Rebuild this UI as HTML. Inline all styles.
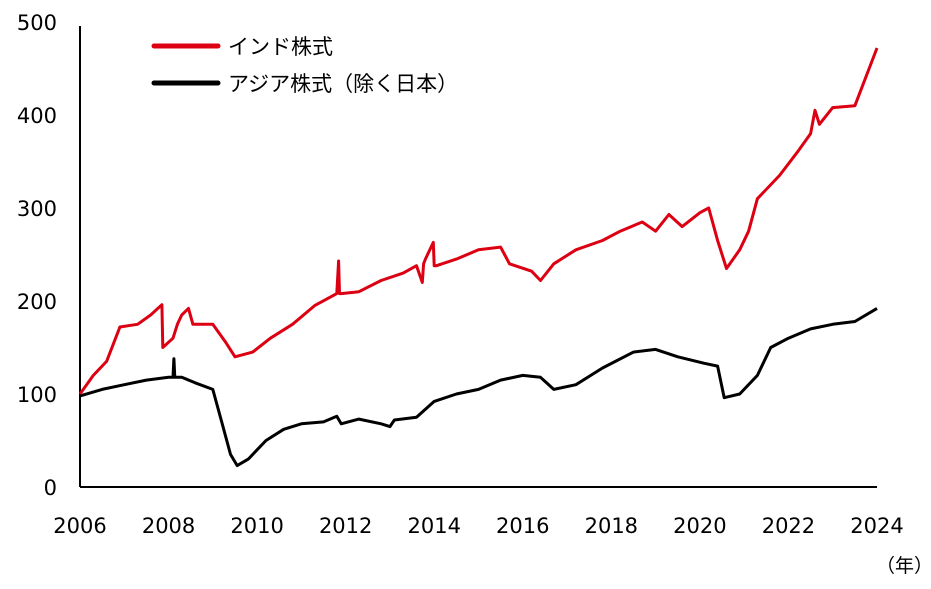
<!DOCTYPE html>
<html><head><meta charset="utf-8"><style>
body{margin:0;background:#fff;}
svg text{font-family:"Liberation Sans","Noto Sans CJK JP",sans-serif;fill:#000;}
svg text.tick{font-family:"DejaVu Sans","Liberation Sans",sans-serif;}
</style></head><body>
<svg id="chart" width="931" height="584" viewBox="0 0 931 584" xmlns="http://www.w3.org/2000/svg">
<g id="axes"></g>
<g id="series"></g>
<g>
<line x1="154" y1="46" x2="218" y2="46" stroke="#dc0012" stroke-width="5" stroke-linecap="round"/>
<text x="228" y="54" font-size="21">インド株式</text>
<line x1="154" y1="83" x2="218" y2="83" stroke="#000" stroke-width="5" stroke-linecap="round"/>
<text x="228" y="91" font-size="21">アジア株式（除く日本）</text>
</g>
<text x="876" y="572" font-size="19">（年）</text>
</svg>
<script>
const yTicks=[0,100,200,300,400,500];
const xTicks=[2006,2008,2010,2012,2014,2016,2018,2020,2022,2024];
const indiaYears=[2006.0,2006.3,2006.6,2006.9,2007.3,2007.6,2007.85,2007.87,2008.1,2008.2,2008.3,2008.45,2008.55,2009.0,2009.3,2009.5,2009.9,2010.3,2010.8,2011.3,2011.8,2011.84,2011.86,2011.9,2012.3,2012.8,2013.3,2013.6,2013.73,2013.76,2013.8,2013.98,2014.0,2014.05,2014.5,2015.0,2015.5,2015.7,2016.2,2016.4,2016.7,2017.2,2017.8,2018.2,2018.7,2019.0,2019.3,2019.6,2020.0,2020.2,2020.4,2020.6,2020.9,2021.1,2021.3,2021.8,2022.2,2022.5,2022.6,2022.7,2023.0,2023.5,2024.0];
const indiaValues=[100,120,135,172,175,185,196,150,160,175,185,192,175,175,155,140,145,160,175,195,208,243,208,208,210,222,230,238,220,240,245,263,238,238,245,255,258,240,232,222,240,255,265,275,285,275,293,280,295,300,265,235,255,275,310,335,360,380,405,390,408,410,472];
const asiaYears=[2006.0,2006.5,2007.0,2007.5,2008.0,2008.1,2008.12,2008.14,2008.3,2008.6,2009.0,2009.2,2009.4,2009.55,2009.8,2010.2,2010.6,2011.0,2011.5,2011.8,2011.9,2012.3,2012.8,2013.0,2013.1,2013.6,2014.0,2014.5,2015.0,2015.5,2016.0,2016.4,2016.7,2017.2,2017.8,2018.5,2019.0,2019.5,2020.1,2020.4,2020.55,2020.9,2021.3,2021.6,2022.0,2022.5,2023.0,2023.5,2024.0];
const asiaValues=[98,105,110,115,118,118,138,118,118,112,105,70,35,23,30,50,62,68,70,76,68,73,68,65,72,75,92,100,105,115,120,118,105,110,128,145,148,140,133,130,96,100,120,150,160,170,175,178,192];
const NS='http://www.w3.org/2000/svg';
const x0=80,x1=877,y0=487,y1=22;
function xs(v){return x0+(v-2006)/(2024-2006)*(x1-x0);}
function ys(v){return y0-(v/500)*(y0-y1);}
const axes=document.getElementById('axes');
function mk(tag,attrs,parent){const e=document.createElementNS(NS,tag);for(const k in attrs)e.setAttribute(k,attrs[k]);parent.appendChild(e);return e;}
let a=mk('line',{x1:x0,y1:26,x2:x0,y2:y0,stroke:'#000','stroke-width':2},axes);


a=mk('line',{x1:x0,y1:y0,x2:x1,y2:y0,stroke:'#000','stroke-width':2},axes);


yTicks.forEach(t=>{const e=mk('text',{class:'tick',x:57,y:ys(t)+8,'font-size':21,'text-anchor':'end'},axes);e.textContent=t;

});
xTicks.forEach(t=>{const e=mk('text',{class:'tick',x:xs(t),y:533,'font-size':21,'text-anchor':'middle'},axes);e.textContent=t;

});
const ser=document.getElementById('series');
function line(xsArr,vals,color,name){const d=xsArr.map((x,i)=>(i?'L':'M')+xs(x).toFixed(1)+','+ys(vals[i]).toFixed(1)).join('');
const p=mk('path',{d:d,fill:'none',stroke:color,'stroke-width':3,'stroke-linejoin':'round'},ser);

}
line(asiaYears,asiaValues,'#000','asia-line');
line(indiaYears,indiaValues,'#dc0012','india-line');
</script>
</body></html>
